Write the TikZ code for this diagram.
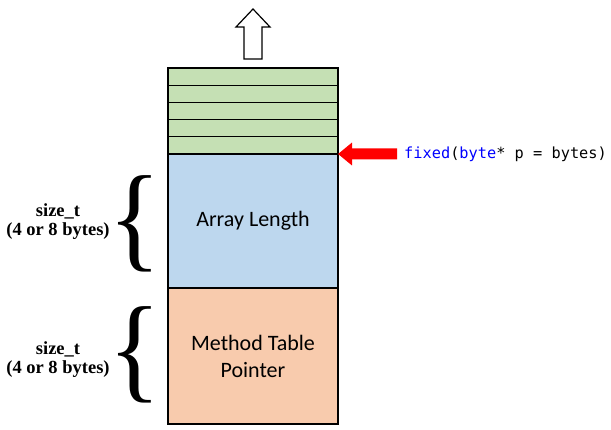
\documentclass[tikz,border=0pt]{standalone}
\usepackage{fontspec}
\newfontfamily\calibri{Carlito}
\newfontfamily\cambria{Liberation Serif}
\newfontfamily\consolas{DejaVu Sans Mono}
\usetikzlibrary{positioning, arrows.meta}
\definecolor{slotgreen}{RGB}{197,224,180}
\definecolor{lenblue}{RGB}{189,215,238}
\definecolor{mtorange}{RGB}{248,203,173}
\definecolor{kwblue}{RGB}{0,0,255}
\tikzstyle{slot} = [rectangle, minimum width=170pt, minimum height=17.2pt, inner sep=0pt, outer sep=0pt, draw=black, line width=1.2pt, fill=slotgreen]
\tikzstyle{field} = [rectangle, minimum width=170pt, inner sep=0pt, outer sep=0pt, align=center, draw=black, line width=1.2pt, font=\calibri\fontsize{22}{27}\selectfont]
\tikzstyle{sizelabel} = [align=center, inner sep=0pt, font=\cambria\bfseries\fontsize{18.5}{19}\selectfont]
\tikzstyle{bracket} = [inner sep=0pt, yscale=1.06, font=\cambria\fontsize{110}{110}\selectfont]
\tikzstyle{codetext} = [inner sep=0pt, font=\consolas\fontsize{15.3}{18}\selectfont]
\tikzstyle{pointer} = [red, line width=11pt, -{Triangle[length=14pt, width=22pt]}]
\tikzstyle{growth} = [draw=black, fill=white, line width=1.2pt, line join=miter]

\begin{document}
\begin{tikzpicture}[x=1pt, y=-1pt]
\useasboundingbox (0,0) rectangle (611,430);
% free slots on top of the array
\node (s1) [slot] at (253,76.6) {};
\node (s2) [slot, below=0pt of s1] {};
\node (s3) [slot, below=0pt of s2] {};
\node (s4) [slot, below=0pt of s3] {};
\node (s5) [slot, below=0pt of s4] {};
\node (len) [field, fill=lenblue, minimum height=134pt, below=0pt of s5] {\raisebox{-3pt}{Array Length}};
\node (mt) [field, fill=mtorange, minimum height=136pt, below=0pt of len] {\raisebox{-2pt}{Method Table}\\\raisebox{-2pt}{Pointer}};
% growth direction
\draw [growth] (244,59) -- (244,27) -- (236,27) -- (253,9) -- (270,27) -- (262,27) -- (262,59) -- cycle;
% fixed statement
\node (code) [codetext, anchor=west] at (404,154) {\textcolor{kwblue}{fixed}(\textcolor{kwblue}{byte}* p = bytes)};
\draw [pointer] ([xshift=-7pt]code.west) -- (s5.south east);
% sizes
\node (lensize) [sizelabel] at (58,222) {size\_t\\(4 or 8 bytes)};
\node (mtsize) [sizelabel] at (58,360) {size\_t\\(4 or 8 bytes)};
\node (lenbrace) [bracket] at (135,224) {\{};
\node (mtbrace) [bracket] at (135,355) {\{};
\end{tikzpicture}
\end{document}
